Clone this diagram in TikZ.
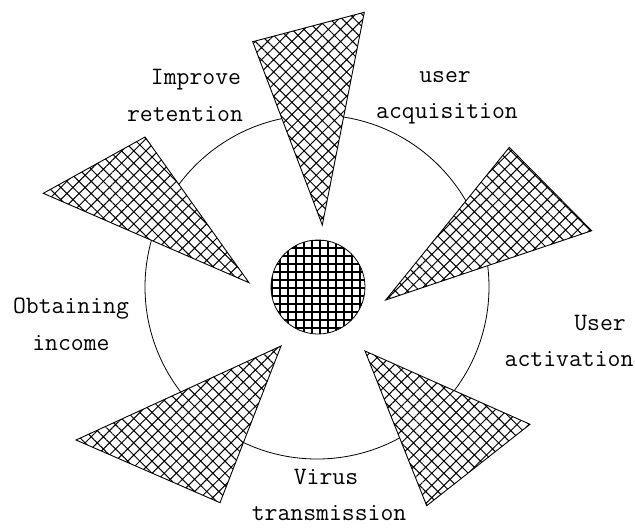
\documentclass[tikz,border=0pt]{standalone}
\usetikzlibrary{patterns.meta}
\tikzset{
  wedge/.style={draw=black, line width=0.9pt, fill=white, postaction={pattern={Hatch[angle=45,distance=8.6pt,line width=1pt]}, pattern color=black}},
  hub/.style={draw=black, line width=0.8pt, fill=white, postaction={pattern={Hatch[angle=0,distance=8pt,line width=1.7pt]}, pattern color=black}},
  ring/.style={draw=black, line width=0.8pt},
  lbl/.style={font=\ttfamily\fontsize{25}{29}\selectfont, anchor=base, inner sep=0pt, text=black}
}
\begin{document}
\begin{tikzpicture}[x=1pt,y=-1pt]
\useasboundingbox (0,0) rectangle (635,528);
\fill[white] (0,0) rectangle (635,528);
\draw[ring] (317,287) circle[radius=172];
% wedges
\draw[wedge] (252.7,41.7) -- (364.3,12.3) -- (322.3,225) -- cycle;
\draw[wedge] (509.3,147.3) -- (591.7,230.7) -- (385.7,300) -- cycle;
\draw[wedge] (43.3,193.3) -- (145,137) -- (249,282.7) -- cycle;
\draw[wedge] (76,440) -- (281,346) -- (220,502.7) -- cycle;
\draw[wedge] (365,351) -- (530,424.3) -- (426.7,505.7) -- cycle;
% hub
\draw[hub] (318,287) circle[radius=47];
% labels
\node[lbl] (l1a) at (196,84) {Improve};
\node[lbl] (l1b) at (185,121) {retention};
\node[lbl] (l2a) at (445,82) {user};
\node[lbl] (l2b) at (447,118) {acquisition};
\node[lbl] (l3a) at (600,330) {User};
\node[lbl] (l3b) at (569,366) {activation};
\node[lbl] (l4a) at (326,484) {Virus};
\node[lbl] (l4b) at (329,520) {transmission};
\node[lbl] (l5a) at (71,313) {Obtaining};
\node[lbl] (l5b) at (71,350) {income};
\end{tikzpicture}
\end{document}
